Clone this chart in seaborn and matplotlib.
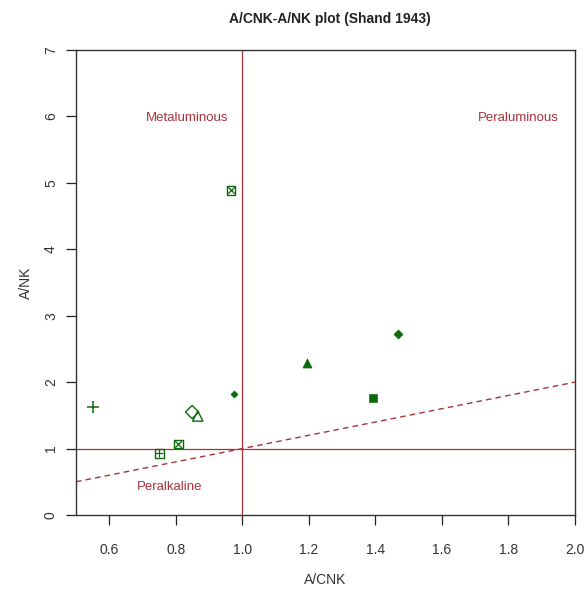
import matplotlib
matplotlib.use("Agg")
import matplotlib.pyplot as plt
import seaborn as sns
import numpy as np
import pandas as pd

sns.set_style("white")
plt.rcParams['font.family'] = ['Liberation Sans', 'DejaVu Sans']

# data
samples = ["S1", "S2", "S3", "S4", "S5", "S6", "S7", "S8", "S9", "S10"]
acnk = [0.551, 0.849, 0.866, 0.807, 0.751, 0.966, 0.975, 1.194, 1.393, 1.468]
ank = [1.62, 1.55, 1.49, 1.07, 0.93, 4.89, 1.82, 2.29, 1.76, 2.72]
kinds = ["plus", "odiamond", "otriangle", "sqx", "sqplus", "sqx", "sdiamond",
         "ftriangle", "fsquare", "fdiamond"]

x_ticks = [0.6, 0.8, 1.0, 1.2, 1.4, 1.6, 1.8, 2.0]
y_ticks = [0, 1, 2, 3, 4, 5, 6, 7]
ref_x = [0.5, 2.0]
ref_y = [0.5, 2.0]

df = pd.DataFrame({"sample": samples, "acnk": acnk, "ank": ank, "kind": kinds})

green = "#0a6a0a"
red = "#a8323a"

fig = plt.figure(figsize=(5.85, 5.93), dpi=100)
ax = fig.add_axes([76/585, 1 - 515/593, (575-76)/585, (515-50)/593])

# reference lines
ax.axvline(1.0, color=red, lw=0.9)
ax.axhline(1.0, color=red, lw=0.9)
sns.lineplot(x=ref_x, y=ref_y, ax=ax, color=red, lw=1.0, linestyle=(0, (4, 3)))

styles = {
    "plus": [dict(marker="+", s=80, color=green, linewidths=1.1)],
    "odiamond": [dict(marker="D", s=45, facecolors="none", edgecolors=green, linewidths=1.0)],
    "otriangle": [dict(marker="^", s=55, facecolors="none", edgecolors=green, linewidths=1.0)],
    "sqx": [dict(marker="s", s=40, facecolors="none", edgecolors=green, linewidths=1.0),
            dict(marker="x", s=22, color=green, linewidths=0.9)],
    "sqplus": [dict(marker="s", s=40, facecolors="none", edgecolors=green, linewidths=1.0),
               dict(marker="+", s=40, color=green, linewidths=0.9)],
    "sdiamond": [dict(marker="D", s=14, color=green, edgecolors=green)],
    "ftriangle": [dict(marker="^", s=42, color=green, edgecolors=green)],
    "fsquare": [dict(marker="s", s=32, color=green, edgecolors=green)],
    "fdiamond": [dict(marker="D", s=22, color=green, edgecolors=green)],
}
for kind, sub in df.groupby("kind"):
    for st in styles[kind]:
        sns.scatterplot(data=sub, x="acnk", y="ank", ax=ax, legend=False, zorder=3, **st)

ax.set_xlim(0.5, 2.0)
ax.set_ylim(0, 7)
ax.set_xticks(x_ticks)
ax.set_xticklabels([f"{v:.1f}" for v in x_ticks])
ax.set_yticks(y_ticks)
ax.set_yticklabels([str(v) for v in y_ticks], rotation=90, va="center")
ax.tick_params(axis="both", direction="out", length=7, width=0.9, labelsize=10,
               colors="#222222", labelcolor="#333333", bottom=True, left=True)
ax.tick_params(axis="x", pad=13)
ax.tick_params(axis="y", pad=6)
for sp in ax.spines.values():
    sp.set_color("#333333")
    sp.set_linewidth(1.0)

ax.set_xlabel("A/CNK", fontsize=10, color="#333333", labelpad=12)
ax.set_ylabel("A/NK", fontsize=10, color="#333333", labelpad=8)

ax.text(0.835, 5.97, "Metaluminous", color=red, fontsize=9.5, ha="center", va="center")
ax.text(1.83, 5.97, "Peraluminous", color=red, fontsize=9.5, ha="center", va="center")
ax.text(0.78, 0.42, "Peralkaline", color=red, fontsize=9.5, ha="center", va="center")

fig.text(330/585, 1 - 19/593, "A/CNK-A/NK plot (Shand 1943)", ha="center",
         va="center", fontsize=10, fontweight="bold", color="#222222")

fig.savefig("out.png", dpi=100)
